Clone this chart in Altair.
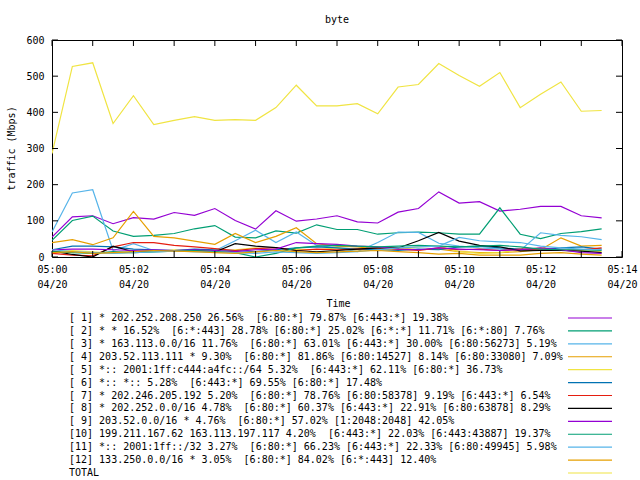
import altair as alt
import pandas as pd

FONT = "DejaVu Sans Mono"

title_text = "byte"
y_title = "traffic (Mbps)"
x_title = "Time"

# sample times every 30 s from 05:00:00 to 05:13:30 (UTC)
sample_times = [t.strftime("%Y-%m-%dT%H:%M:%SZ")
                for t in pd.date_range("2024-04-20 05:00:00", periods=28, freq="30s")]
minute_ticks = [t.strftime("%Y-%m-%dT%H:%M:%SZ")
                for t in pd.date_range("2024-04-20 05:00:00", periods=15, freq="60s")]
label_minutes = [0, 2, 4, 6, 8, 10, 12, 14]
y_ticks = [0, 100, 200, 300, 400, 500, 600]

legend_labels = [
    "[ 1] * 202.252.208.250 26.56%  [6:80:*] 79.87% [6:443:*] 19.38%",
    "[ 2] * * 16.52%  [6:*:443] 28.78% [6:80:*] 25.02% [6:*:*] 11.71% [6:*:80] 7.76%",
    "[ 3] * 163.113.0.0/16 11.76%  [6:80:*] 63.01% [6:443:*] 30.00% [6:80:56273] 5.19%",
    "[ 4] 203.52.113.111 * 9.30%  [6:80:*] 81.86% [6:80:14527] 8.14% [6:80:33080] 7.09%",
    "[ 5] *:: 2001:1ff:c444:a4fc::/64 5.32%  [6:443:*] 62.11% [6:80:*] 36.73%",
    "[ 6] *:: *:: 5.28%  [6:443:*] 69.55% [6:80:*] 17.48%",
    "[ 7] * 202.246.205.192 5.20%  [6:80:*] 78.76% [6:80:58378] 9.19% [6:443:*] 6.54%",
    "[ 8] * 202.252.0.0/16 4.78%  [6:80:*] 60.37% [6:443:*] 22.91% [6:80:63878] 8.29%",
    "[ 9] 203.52.0.0/16 * 4.76%  [6:80:*] 57.02% [1:2048:2048] 42.05%",
    "[10] 199.211.167.62 163.113.197.117 4.20%  [6:443:*] 22.03% [6:443:43887] 19.37%",
    "[11] *:: 2001:1ff::/32 3.27%  [6:80:*] 66.23% [6:443:*] 22.33% [6:80:49945] 5.98%",
    "[12] 133.250.0.0/16 * 3.05%  [6:80:*] 84.02% [6:*:443] 12.40%",
    "TOTAL",
]

colors = ["#9400D3", "#009E73", "#56B4E9", "#E69F00", "#F0E442", "#0072B2",
          "#E51E10", "#000000", "#9400D3", "#009E73", "#56B4E9", "#E69F00", "#F0E442"]

s1 = [55, 111, 114, 92, 109, 105, 123, 115, 134, 101, 77, 128, 99, 105,
      114, 97, 94, 124, 134, 180, 149, 153, 127, 132, 140, 140, 114, 108]
s2 = [46, 101, 113, 72, 57, 60, 65, 78, 87, 55, 53, 72, 66, 89,
      76, 76, 63, 67, 69, 67, 63, 63, 136, 63, 51, 65, 70, 78]
s3 = [69, 177, 186, 18, 37, 18, 17, 15, 17, 45, 74, 40, 69, 32,
      25, 15, 40, 69, 68, 38, 30, 25, 22, 18, 67, 60, 56, 48]
s4 = [40, 48, 34, 53, 126, 57, 53, 44, 35, 65, 40, 57, 81, 37,
      30, 28, 22, 25, 20, 22, 15, 12, 12, 15, 20, 53, 30, 32]
s5 = [15, 18, 14, 10, 12, 15, 20, 18, 15, 20, 25, 18, 22, 20,
      25, 22, 20, 22, 28, 30, 15, 10, 12, 20, 25, 20, 18, 15]
s6 = [20, 30, 30, 28, 22, 20, 18, 22, 20, 18, 15, 20, 25, 28,
      25, 22, 20, 18, 22, 20, 28, 30, 25, 22, 20, 25, 28, 22]
s7 = [10, 5, 3, 28, 40, 40, 32, 28, 23, 18, 23, 26, 18, 22,
      20, 22, 25, 22, 18, 25, 20, 22, 18, 22, 22, 18, 20, 25]
s8 = [17, 7, 0, 30, 14, 18, 18, 18, 14, 37, 30, 26, 18, 14,
      18, 22, 25, 25, 45, 68, 44, 32, 28, 17, 18, 18, 16, 12]
s9 = [20, 22, 22, 20, 18, 20, 18, 20, 18, 15, 20, 22, 40, 37,
      35, 30, 28, 22, 20, 25, 22, 20, 18, 20, 25, 20, 12, 10]
s10 = [15, 12, 10, 15, 12, 14, 16, 18, 15, 12, 0, 10, 25, 30,
       32, 30, 28, 30, 32, 30, 28, 30, 32, 28, 22, 20, 20, 18]
s11 = [20, 15, 12, 10, 12, 14, 16, 15, 13, 12, 10, 14, 12, 10,
       12, 15, 20, 25, 28, 30, 54, 45, 42, 40, 30, 25, 22, 20]
s12 = [12, 15, 10, 12, 15, 18, 16, 15, 12, 10, 14, 18, 15, 12,
       14, 16, 18, 15, 12, 8, 10, 5, 5, 5, 10, 12, 8, 5]
s13 = [286, 527, 537, 369, 446, 366, 378, 388, 378, 380, 378, 413, 475, 418,
       418, 424, 396, 470, 477, 535, 502, 472, 510, 413, 450, 484, 403, 405]

series = [s1, s2, s3, s4, s5, s6, s7, s8, s9, s10, s11, s12, s13]
keys = ["%02d" % i for i in range(len(series))]

rows = []
for k, vals in zip(keys, series):
    for t, v in zip(sample_times, vals):
        rows.append({"t": t, "v": v, "s": k})
line_df = pd.DataFrame(rows)

# keep the double spaces visible in SVG text
shown_labels = [lab.replace("  ", " \u00a0") for lab in legend_labels]
legend_df = pd.DataFrame({"r": list(range(len(keys))), "s": keys, "label": shown_labels})
xtick_df = pd.DataFrame({"t": minute_ticks})
ytick_df = pd.DataFrame({"v": y_ticks})

W, H = 570, 217

def dt(m):
    return alt.DateTime(year=2024, month=4, date=20, hours=5, minutes=m, utc=True)

xscale = alt.Scale(type="utc", domain=[dt(0), dt(14)], nice=False)
yscale = alt.Scale(domain=[0, 600], nice=False, zero=True)
cscale = alt.Scale(domain=keys, range=colors)

xaxis = alt.Axis(
    title=x_title, values=[dt(m) for m in label_minutes],
    labelExpr="[utcFormat(datum.value, '%H:%M'), utcFormat(datum.value, '%m/%d')]",
    ticks=False, tickSize=0, domain=False, grid=False, labelPadding=7,
    labelLineHeight=15, labelFlush=False, labelOverlap=False,
    titleX=286, titleY=46, titleBaseline="middle", titleAlign="center",
)
yaxis = alt.Axis(
    title=y_title, values=y_ticks, ticks=False, tickSize=0, domain=False,
    grid=False, labelPadding=8, titleX=-41, titleY=108, titleAngle=270,
    titleBaseline="middle", titleAlign="center",
)

lines = alt.Chart(line_df).mark_line(strokeWidth=1.2, clip=True).encode(
    x=alt.X("t:T", scale=xscale, axis=xaxis),
    y=alt.Y("v:Q", scale=yscale, axis=yaxis),
    color=alt.Color("s:N", scale=cscale, legend=None),
    order=alt.Order("s:N"),
)

ytick_left = alt.Chart(ytick_df).mark_rule(color="black", strokeWidth=1).encode(
    y=alt.Y("v:Q", scale=yscale, axis=yaxis), x=alt.value(0), x2=alt.value(6))
ytick_right = alt.Chart(ytick_df).mark_rule(color="black", strokeWidth=1).encode(
    y=alt.Y("v:Q", scale=yscale, axis=yaxis), x=alt.value(W - 6), x2=alt.value(W))
xtick_bot = alt.Chart(xtick_df).mark_rule(color="black", strokeWidth=1).encode(
    x=alt.X("t:T", scale=xscale, axis=xaxis), y=alt.value(H - 6), y2=alt.value(H))
xtick_top = alt.Chart(xtick_df).mark_rule(color="black", strokeWidth=1).encode(
    x=alt.X("t:T", scale=xscale, axis=xaxis), y=alt.value(0), y2=alt.value(6))

main = alt.layer(lines, ytick_left, ytick_right, xtick_bot, xtick_top)

lscale = alt.Scale(domain=[0, 12], range=[278, 433])
leg_text = alt.Chart(legend_df).mark_text(
    align="left", baseline="middle", font=FONT, fontSize=10, color="black"
).encode(
    y=alt.Y("r:Q", scale=lscale, axis=None),
    x=alt.value(17),
    text="label:N",
)
leg_line = alt.Chart(legend_df).mark_rule(strokeWidth=1.2).encode(
    y=alt.Y("r:Q", scale=lscale, axis=None),
    x=alt.value(516), x2=alt.value(560),
    color=alt.Color("s:N", scale=cscale, legend=None),
)

chart = alt.layer(main, leg_text, leg_line).resolve_scale(y="independent").properties(
    width=W, height=H,
    title=alt.TitleParams(title_text, anchor="middle", fontSize=10, font=FONT,
                          fontWeight="normal", offset=10, color="black"),
    autosize=alt.AutoSizeParams(type="none"),
    padding={"left": 52, "top": 40, "right": 18, "bottom": 223},
    background="white",
).configure_view(
    stroke="black", strokeWidth=1
).configure_axis(
    labelFont=FONT, titleFont=FONT, labelFontSize=10, titleFontSize=10,
    labelColor="black", titleColor="black", titleFontWeight="normal",
)

chart.save("out.html", embed_options={"renderer": "svg", "actions": False})
